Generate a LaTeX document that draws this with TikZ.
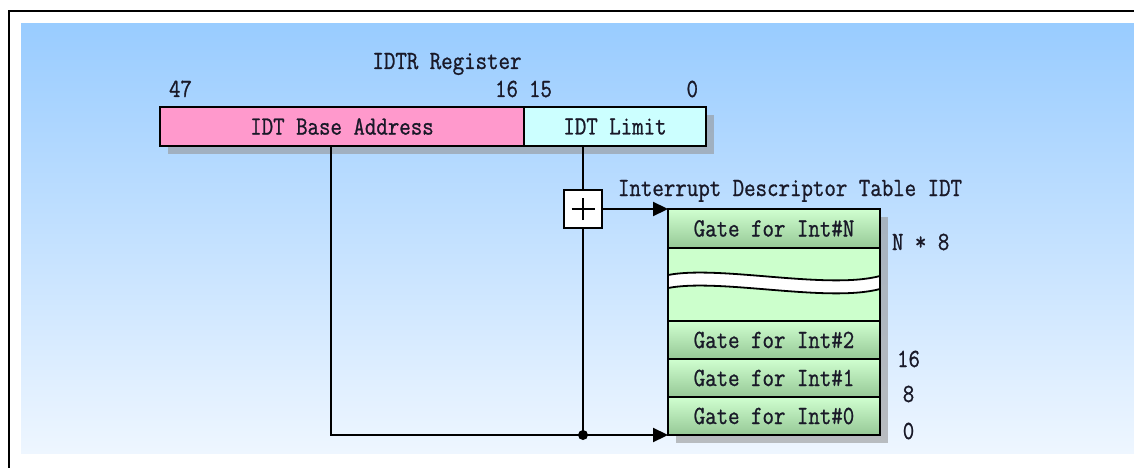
\documentclass[tikz,border=0pt]{standalone}
\usepackage{fontspec}
\newfontfamily\lblfont{Latin Modern Mono}[FakeBold=0.9, FakeStretch=0.85]
\usetikzlibrary{arrows.meta}
\definecolor{bgtop}{RGB}{153,204,255}
\definecolor{bgbot}{RGB}{238,246,255}
\definecolor{pinkf}{RGB}{255,153,204}
\definecolor{cyanf}{RGB}{204,255,255}
\definecolor{gatetop}{RGB}{208,255,208}
\definecolor{gatebot}{RGB}{150,200,150}
\definecolor{midf}{RGB}{204,255,204}
\definecolor{shad}{RGB}{150,150,150}
\definecolor{txt}{RGB}{25,25,40}
\tikzset{
  lbl/.style={font=\fontsize{26.2}{28}\selectfont\lblfont, text=txt, inner sep=0pt, outer sep=0pt},
  field/.style={draw=black, line width=2.2pt, inner sep=0pt, outer sep=0pt, minimum height=39pt, lbl},
  gate/.style={draw=black, line width=2.2pt, inner sep=0pt, outer sep=0pt, minimum width=212pt, minimum height=38pt,
    top color=gatetop, bottom color=gatebot, lbl},
  conn/.style={line width=2.2pt},
  arr/.style={conn, -{Triangle[length=15pt,width=14pt]}},
  shadowbox/.style={fill=shad, fill opacity=0.6, draw=none}
}
\begin{document}
\begin{tikzpicture}[x=1pt,y=-1pt]
\useasboundingbox (0,0) rectangle (1134,468);
% background
\fill[white] (0,0) rectangle (1134,468);
\shade[top color=bgtop, bottom color=bgbot] (21,24) rectangle (1134,453);
\draw[line width=2.8pt] (9,480) -- (9,11) -- (1150,11);
% shadows
\fill[shadowbox] (168,115) rectangle (714,154);
\fill[shadowbox] (676,217) rectangle (888,443);
% register
\node[lbl, anchor=base] (title) at (447,69) {IDTR Register};
\node[lbl, anchor=base] (b47) at (180.5,97) {47};
\node[lbl, anchor=base east] (b16) at (518,97) {16};
\node[lbl, anchor=base west] (b15) at (529,97) {15};
\node[lbl, anchor=base east] (b0) at (698,97) {0};
\node[field, fill=pinkf, minimum width=364pt] (base) at (342,126.5) {IDT Base Address};
\node[field, fill=cyanf, minimum width=182pt] (lim) at (615,126.5) {IDT Limit};
% table
\node[lbl, anchor=base west] (idt) at (618,196) {Interrupt Descriptor Table IDT};
\node[gate, minimum height=39pt] (gN) at (774,228.5) {Gate for Int\#N};
\node[draw=black, line width=2.2pt, fill=midf, minimum width=212pt, minimum height=73pt, inner sep=0pt, outer sep=0pt] (mid) at (774,284.5) {};
\node[gate] (g2) at (774,340) {Gate for Int\#2};
\node[gate] (g1) at (774,378) {Gate for Int\#1};
\node[gate] (g0) at (774,416) {Gate for Int\#0};
% wave break
\fill[white] (668,275) .. controls (720,265) and (827,290) .. (880,276)
  -- (880,289) .. controls (827,303) and (720,278) .. (668,288) -- cycle;
\draw[line width=1.8pt] (668,275) .. controls (720,265) and (827,290) .. (880,276);
\draw[line width=1.8pt] (668,288) .. controls (720,278) and (827,303) .. (880,289);
\draw[line width=2.2pt] (mid.north west) -- (mid.south west) (mid.north east) -- (mid.south east);
% offsets
\node[lbl, anchor=base west] (n8) at (892,250) {N * 8};
\node[lbl, anchor=base] (o16) at (908.5,367) {16};
\node[lbl, anchor=base] (o8) at (908.5,402) {8};
\node[lbl, anchor=base] (o0) at (908.5,439) {0};
% adder
\node[draw=black, line width=2.2pt, fill=white, minimum width=38pt, minimum height=38pt, inner sep=0pt, outer sep=0pt] (plus) at (583,209) {};
\draw[line width=1.8pt] ([xshift=-11.5pt]plus.center) -- ([xshift=11.5pt]plus.center);
\draw[line width=1.8pt] ([yshift=-11pt]plus.center) -- ([yshift=11pt]plus.center);
% connectors
\coordinate (bx) at (331,146);
\coordinate (jn) at (583,435);
\draw[conn] (plus.north |- lim.south) -- (plus.north);
\draw[conn] (plus.south) -- (jn);
\draw[arr] (bx) |- (g0.south west);
\draw[arr] (plus.east) -- (plus.east -| gN.west);
\fill (jn) circle (5pt);
\end{tikzpicture}
\end{document}
